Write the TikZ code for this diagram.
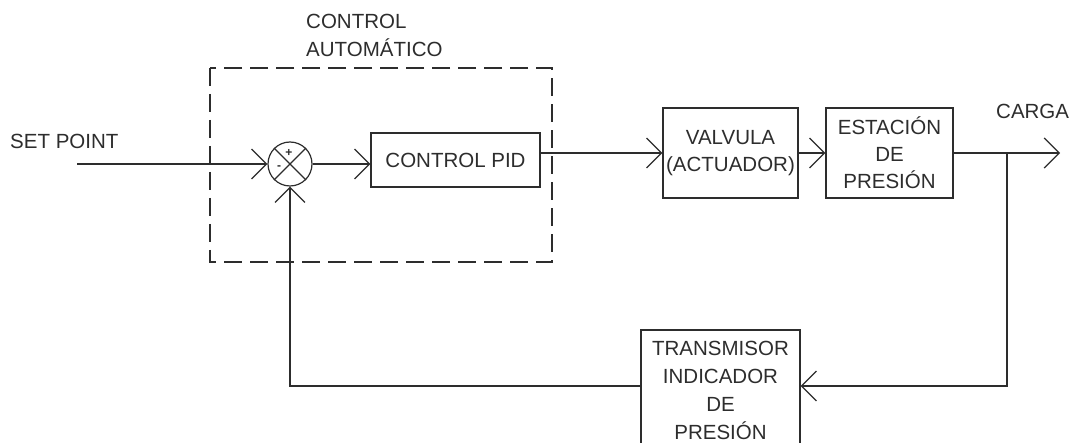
\documentclass[tikz,border=0pt]{standalone}
\usepackage{fontspec}
\setmainfont{Liberation Sans}
\usetikzlibrary{arrows.meta}
\definecolor{ln}{RGB}{45,45,45}
\begin{document}
\begin{tikzpicture}[x=1pt,y=-1pt,
  every node/.style={text=ln, font=\fontsize{20.5}{27}\selectfont},
  blk/.style={draw=ln, line width=1.2pt, rectangle, inner sep=0pt, align=center},
  conn/.style={draw=ln, line width=1.2pt},
  arr/.style={conn, -{Straight Barb[length=15pt,width=30pt,line width=1.2pt]}},
  lbl/.style={inner sep=0pt}
]
\clip (0,0) rectangle (1074,443);
\fill[white] (0,0) rectangle (1074,443);

% dashed region
\draw[ln, line width=1.2pt, dash pattern=on 18pt off 8pt] (210,68) rectangle (552,262);
\node[lbl, anchor=north west, align=left, font=\fontsize{20.5}{28}\selectfont] (auto) at (306,13.5) {CONTROL\\AUTOMÁTICO};

% summing junction
\node[draw=ln, line width=1.2pt, circle, minimum size=44pt, inner sep=0pt] (sum) at (290,164) {};
\draw[conn] (sum.north west) -- (sum.south east);
\draw[conn] (sum.north east) -- (sum.south west);
\node[lbl, font=\fontsize{12}{12}\selectfont\bfseries] (plus) at (289,153) {+};
\node[lbl, font=\fontsize{12}{12}\selectfont\bfseries] (minus) at (279,168) {-};

% blocks
\node[blk, minimum width=169pt, minimum height=54pt] (pid) at (455.5,160) {CONTROL PID};
\node[blk, minimum width=135pt, minimum height=90pt] (valv) at (730.5,153) {VALVULA\\(ACTUADOR)};
\node[blk, minimum width=127pt, minimum height=90pt] (est) at (889.5,153) {ESTACIÓN\\DE\\PRESIÓN};
\node[blk, minimum width=159pt, minimum height=120pt, font=\fontsize{20.5}{28}\selectfont] (trans) at (720.5,390) {TRANSMISOR\\INDICADOR\\DE\\PRESIÓN};

% labels
\node[lbl, anchor=base west] (sp) at (10,149) {SET POINT};
\node[lbl, anchor=base west] (carga) at (996,118.5) {CARGA};

% coordinates
\coordinate (spin) at (77,164);
\coordinate (out) at (1060,153);
\coordinate (br) at (1007,153);
\coordinate (fb) at (1007,386);

% connectors
\draw[arr] (spin) -- (sum.west);
\draw[arr] (sum.east) -- (sum.east -| pid.west);
\draw[arr] (pid.east |- valv.west) -- (valv.west);
\draw[arr] (valv.east) -- (est.west);
\draw[arr] (est.east) -- (out);
\draw[arr] (br) -- (fb) -- (fb -| trans.east);
\draw[arr] (fb -| trans.west) -- (fb -| sum.south) -- (sum.south);
\end{tikzpicture}
\end{document}
